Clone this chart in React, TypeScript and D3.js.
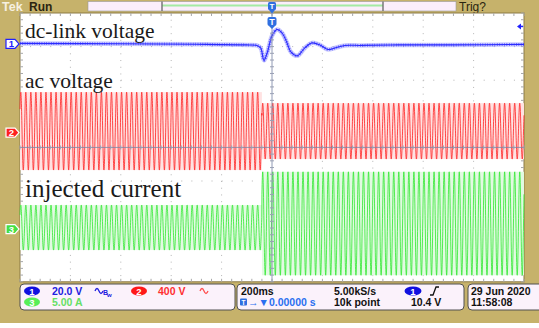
import React from 'react';
import * as d3 from 'd3';

const W = 539;
const H = 328;

// Time base: 200 ms/div, 10 divisions, trigger at centre
const timeDomain = [-1, 1];
const freqHz = 50;

// Channel settings
const channelNames = ['dc-link voltage', 'ac voltage', 'injected current'];
const channelScale = [20, 400, 5]; // units per division
const channelPos = [3.08, 0.44, -2.43]; // ground marker position in divisions
const channelUnit = ['20.0 V', '400 V', '5.00 A'];

// CH1: dc-link voltage (V relative to marker), key points
const dcTime = [-1, -0.6, -0.3, -0.1, -0.06, -0.045, -0.032, -0.018, 0, 0.02, 0.04, 0.058, 0.075, 0.1, 0.13, 0.159, 0.19, 0.222, 0.25, 0.29, 0.35, 0.5, 0.7, 1];
const dcVolts = [0.3, 0.1, -0.2, -0.6, -0.9, -2.4, -9.8, -4.8, 4.8, 8.6, 6.5, 1.2, -4.8, -7.1, -2.4, 0.6, -0.6, -3.3, -2.4, -0.9, -0.9, -0.6, -0.6, -0.3];

// CH2: ac voltage envelope (segment start time, amplitude V, offset V)
const acSegStart = [-1, -0.04];
const acAmplitude = [464, 333];
const acOffset = [18, 18];

// CH3: injected current envelope (segment start time, amplitude A, offset A)
const curSegStart = [-1, -0.04];
const curAmplitude = [3.35, 7.7];
const curOffset = [0.22, 0.82];

// Readouts
const timeDiv = '200ms';
const sampleRate = '5.00kS/s';
const recordLen = '10k point';
const trigLevel = '10.4 V';
const trigLevelV = 10.4;
const dateStr = '29 Jun 2020';
const timeStr = '11:58:08';

const gL = 20, gR = 524, gT = 13, gB = 281.8;

const x = d3.scaleLinear().domain(timeDomain).range([gL, gR]);
const yDiv = d3.scaleLinear().domain([-4, 4]).range([gB, gT]);
const yCh = (ch: number, v: number) => yDiv(channelPos[ch] + v / channelScale[ch]);

const sampleTimes = d3.range(timeDomain[0], timeDomain[1] + 1e-9, 0.0004);

function segIndex(starts: number[], t: number) {
  let k = 0;
  for (let i = 0; i < starts.length; i++) if (t >= starts[i]) k = i;
  return k;
}

const sineAt = (starts: number[], amp: number[], off: number[], t: number) => {
  const k = segIndex(starts, t);
  return off[k] + amp[k] * Math.sin(2 * Math.PI * freqHz * t + 0.6);
};

const TAN = '#c6b26b';

export default function App() {
  const lineGen = d3.line<[number, number]>().x(d => d[0]).y(d => d[1]);
  const dcPath = d3.line<number>()
    .x((_, i) => x(dcTime[i]))
    .y(d => yCh(0, d))
    .curve(d3.curveCatmullRom.alpha(0.5))(dcVolts) || '';
  const acPath = lineGen(sampleTimes.map(t => [x(t), yCh(1, sineAt(acSegStart, acAmplitude, acOffset, t))])) || '';
  const curPath = lineGen(sampleTimes.map(t => [x(t), yCh(2, sineAt(curSegStart, curAmplitude, curOffset, t))])) || '';

  const xCenter = x(0);
  const yCenter = yDiv(0);
  const divW = (gR - gL) / 10;
  const divH = (gB - gT) / 8;

  const vLines = d3.range(1, 10).filter(i => i !== 5).map(i => gL + i * divW);
  const hLines = d3.range(1, 8).filter(j => j !== 4).map(j => gT + j * divH);
  const minorX = d3.range(0, 51).map(i => gL + i * divW / 5);
  const minorY = d3.range(0, 41).map(j => gT + j * divH / 5);

  const bandSeg = (starts: number[], amp: number[], off: number[], ch: number, col: string) =>
    starts.map((s, i) => {
      const e = i + 1 < starts.length ? starts[i + 1] : timeDomain[1];
      const top = yCh(ch, off[i] + amp[i]);
      const bot = yCh(ch, off[i] - amp[i]);
      return <rect key={i} x={x(s)} y={top} width={x(e) - x(s)} height={bot - top} fill={col} />;
    });

  const squiggle = (sx: number, sy: number, col: string) => (
    <path d={`M${sx},${sy} q2,-5 4,0 t4,0`} fill="none" stroke={col} strokeWidth={1.3} />
  );

  const font = "'Liberation Sans', Arial, sans-serif";
  const serif = "'Liberation Serif', 'Times New Roman', serif";

  return (
    <svg width={W} height={H} style={{ position: 'absolute', left: 0, top: 0 }}>
      <rect x={0} y={0} width={W} height={H} fill="#ffffff" />
      <rect x={0} y={0} width={W} height={323} fill={TAN} />

      {/* top status bar */}
      <text x={2} y={10.5} fontFamily={font} fontWeight="bold" fontSize={12.5} fill="#f6f0e0">Tek</text>
      <text x={29} y={10.5} fontFamily={font} fontWeight="bold" fontSize={12} fill="#2a2410">Run</text>
      <rect x={88} y={1.5} width={368} height={9.5} fill="#fbeefb" stroke="#9a9a9a" strokeWidth={0.6} />
      <line x1={162} x2={383} y1={5.5} y2={5.5} stroke="#a4eaa4" strokeWidth={2} />
      <line x1={162} x2={162} y1={1.5} y2={11} stroke="#707070" strokeWidth={1.4} />
      <line x1={383} x2={383} y1={1.5} y2={11} stroke="#707070" strokeWidth={1.4} />
      <text x={459} y={10.5} fontFamily={font} fontSize={12} fill="#2a2410">Trig?</text>

      {/* graticule */}
      <rect x={gL} y={gT} width={gR - gL} height={gB - gT} fill="#ffffff" stroke="#8c7a45" strokeWidth={1} />
      {vLines.map((vx, i) => (
        <line key={'v' + i} x1={vx} x2={vx} y1={gT} y2={gB} stroke="#b4b4b4" strokeWidth={1} strokeDasharray={`1,${divH / 5 - 1}`} />
      ))}
      {hLines.map((hy, i) => (
        <line key={'h' + i} x1={gL} x2={gR} y1={hy} y2={hy} stroke="#b4b4b4" strokeWidth={1} strokeDasharray={`1,${divW / 5 - 1}`} />
      ))}
      {minorX.map((mx, i) => (
        <g key={'mx' + i} stroke="#a8a8a8" strokeWidth={1}>
          <line x1={mx} x2={mx} y1={gT} y2={gT + 3} />
          <line x1={mx} x2={mx} y1={gB - 3} y2={gB} />
        </g>
      ))}
      {minorY.map((my, i) => (
        <g key={'my' + i} stroke="#a8a8a8" strokeWidth={1}>
          <line x1={gL} x2={gL + 3} y1={my} y2={my} />
          <line x1={gR - 3} x2={gR} y1={my} y2={my} />
        </g>
      ))}

      {/* traces */}
      {bandSeg(curSegStart, curAmplitude, curOffset, 2, '#e2fae2')}
      {bandSeg(acSegStart, acAmplitude, acOffset, 1, '#ffe2e2')}
      <path d={curPath} fill="none" stroke="#30e830" strokeOpacity={0.8} strokeWidth={1} />
      <path d={acPath} fill="none" stroke="#ff2424" strokeOpacity={0.82} strokeWidth={1} />
      <path d={dcPath} fill="none" stroke="#9a9aff" strokeOpacity={0.5} strokeWidth={4.5} />
      <path d={dcPath} fill="none" stroke="#3a3aff" strokeOpacity={0.7} strokeWidth={3} strokeDasharray="0.8,1.6" />
      <path d={dcPath} fill="none" stroke="#2a2aff" strokeWidth={1.1} />

      {/* centre lines */}
      <line x1={xCenter} x2={xCenter} y1={gT} y2={gB} stroke="#7e88a8" strokeWidth={1} strokeOpacity={0.85} />
      <line x1={gL} x2={gR} y1={yCenter} y2={yCenter} stroke="#7e88a8" strokeWidth={1} strokeOpacity={0.85} />
      {minorX.map((mx, i) => (
        <line key={'cx' + i} x1={mx} x2={mx} y1={yCenter - 2} y2={yCenter + 2} stroke="#9aa0b4" strokeWidth={1} />
      ))}
      {minorY.map((my, i) => (
        <line key={'cy' + i} x1={xCenter - 2} x2={xCenter + 2} y1={my} y2={my} stroke="#9aa0b4" strokeWidth={1} />
      ))}

      {/* trigger markers */}
      <rect x={xCenter - 4} y={2} width={8} height={8} rx={1.5} fill="#2f6fe0" />
      <text x={xCenter} y={9} textAnchor="middle" fontFamily={font} fontWeight="bold" fontSize={8} fill="#fff">T</text>
      <path d={`M${xCenter - 3},10 L${xCenter + 3},10 L${xCenter},13.5 Z`} fill="#2f6fe0" />
      <rect x={xCenter - 4.5} y={17} width={9} height={9} rx={2} fill="#2f6fe0" />
      <text x={xCenter} y={24.8} textAnchor="middle" fontFamily={font} fontWeight="bold" fontSize={9} fill="#fff">T</text>
      <path d={`M${xCenter - 3},26 L${xCenter + 3},26 L${xCenter},29 Z`} fill="#2f6fe0" />

      {/* trigger level arrow */}
      <path d={`M${gR - 7},${yCh(0, trigLevelV)} L${gR - 3},${yCh(0, trigLevelV) - 3} L${gR - 3},${yCh(0, trigLevelV) + 3} Z`} fill="#2020ff" />
      <line x1={gR - 4} x2={gR - 1} y1={yCh(0, trigLevelV)} y2={yCh(0, trigLevelV)} stroke="#2020ff" strokeWidth={1.5} />

      {/* channel ground markers */}
      {[0, 1, 2].map(ch => {
        const my = yCh(ch, 0);
        const fills = ['#ffffff', '#ff2020', '#44e044'];
        const strokes = ['#2020ff', '#ffffff', '#ffffff'];
        const tcol = ['#2020ff', '#ffffff', '#ffffff'];
        return (
          <g key={'m' + ch}>
            <path d={`M6,${my - 4.5} L15,${my - 4.5} L19,${my} L15,${my + 4.5} L6,${my + 4.5} Z`} fill={fills[ch]} stroke={strokes[ch]} strokeWidth={1.2} />
            <text x={11.5} y={my + 3.5} textAnchor="middle" fontFamily={font} fontWeight="bold" fontSize={9.5} fill={tcol[ch]}>{ch + 1}</text>
          </g>
        );
      })}

      {/* annotations */}
      <text x={25} y={38} fontFamily={serif} fontSize={21.5} fill="#1a1a1a">{channelNames[0]}</text>
      <text x={25} y={88} fontFamily={serif} fontSize={21.5} fill="#1a1a1a">{channelNames[1]}</text>
      <text x={25} y={197} fontFamily={serif} fontSize={25} fill="#1a1a1a">{channelNames[2]}</text>

      {/* readout boxes */}
      <rect x={20} y={284} width={215} height={26} rx={4} fill="#fbf2fb" stroke="#505050" strokeWidth={1} />
      <rect x={237} y={284} width={227} height={26} rx={4} fill="#fbf2fb" stroke="#505050" strokeWidth={1} />
      <rect x={468} y={284} width={80} height={26} rx={4} fill="#fbf2fb" stroke="#505050" strokeWidth={1} />

      <ellipse cx={32} cy={291} rx={8} ry={4.6} fill="#1010e0" />
      <text x={32} y={294.5} textAnchor="middle" fontFamily={font} fontWeight="bold" fontSize={9.5} fill="#fff">1</text>
      <text x={52} y={295} fontFamily={font} fontWeight="bold" fontSize={10.5} fill="#2020e0">{channelUnit[0]}</text>
      {squiggle(95, 291, '#2020e0')}
      <text x={103} y={295} fontFamily={font} fontWeight="bold" fontSize={7} fill="#2020e0">B</text>
      <text x={107} y={296.5} fontFamily={font} fontWeight="bold" fontSize={6} fill="#2020e0">w</text>

      <ellipse cx={139} cy={291} rx={8} ry={4.6} fill="#ff1818" />
      <text x={139} y={294.5} textAnchor="middle" fontFamily={font} fontWeight="bold" fontSize={9.5} fill="#fff">2</text>
      <text x={158} y={295} fontFamily={font} fontWeight="bold" fontSize={10.5} fill="#ff3030">{channelUnit[1]}</text>
      {squiggle(200, 291, '#ff5050')}

      <ellipse cx={32} cy={302} rx={8} ry={4.6} fill="#58ee58" />
      <text x={32} y={305.5} textAnchor="middle" fontFamily={font} fontWeight="bold" fontSize={9.5} fill="#fff">3</text>
      <text x={52} y={306} fontFamily={font} fontWeight="bold" fontSize={10.5} fill="#66e066">{channelUnit[2]}</text>

      <text x={241} y={295} fontFamily={font} fontWeight="bold" fontSize={10.5} fill="#111">{timeDiv}</text>
      <rect x={240} y={298.5} width={7} height={7} rx={1} fill="#2f6fe0" />
      <text x={243.5} y={304.5} textAnchor="middle" fontFamily={font} fontWeight="bold" fontSize={6.5} fill="#fff">T</text>
      <text x={248} y={306} fontFamily={font} fontWeight="bold" fontSize={10.5} fill="#2a70f0">{'\u2192\u25BC0.00000 s'}</text>

      <text x={334} y={295} fontFamily={font} fontWeight="bold" fontSize={10.5} fill="#111">{sampleRate}</text>
      <text x={334} y={306} fontFamily={font} fontWeight="bold" fontSize={10.5} fill="#111">{recordLen}</text>

      <ellipse cx={413} cy={291} rx={8.5} ry={4.6} fill="#1010e0" />
      <text x={413} y={294.5} textAnchor="middle" fontFamily={font} fontWeight="bold" fontSize={9.5} fill="#fff">1</text>
      <path d="M430,295 L433,295 L436,287 L439,287" fill="none" stroke="#111" strokeWidth={1.3} />
      <text x={411} y={306} fontFamily={font} fontWeight="bold" fontSize={10.5} fill="#111">{trigLevel}</text>

      <text x={471} y={295} fontFamily={font} fontWeight="bold" fontSize={10.5} fill="#111">{dateStr}</text>
      <text x={471} y={306} fontFamily={font} fontWeight="bold" fontSize={10.5} fill="#111">{timeStr}</text>
    </svg>
  );
}
